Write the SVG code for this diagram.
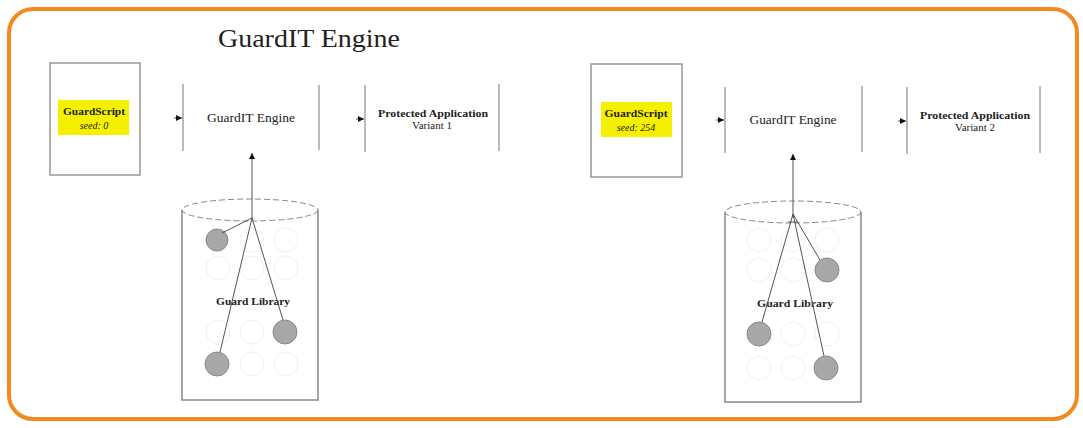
<svg xmlns="http://www.w3.org/2000/svg" width="1083" height="428" viewBox="0 0 1083 428">
<style>
.t{font-family:'Liberation Serif','DejaVu Serif',serif;fill:#222}
.box{fill:#fff;stroke:#999;stroke-width:1.5}
.vl{stroke:#777;stroke-width:1}
.hl{fill:#f5f000}
.cyl{fill:none;stroke:#888;stroke-width:1.5}
.ell{fill:none;stroke:#888;stroke-width:1;stroke-dasharray:6 3}
.full{fill:#a8a8a8;stroke:#8a8a8a;stroke-width:1}
.empty{fill:none;stroke:#f0f0f0;stroke-width:1}
.ln{stroke:#555;stroke-width:1;fill:none}
</style>
<defs>
<marker id="ah" viewBox="0 0 10 10" refX="10" refY="5" markerWidth="8" markerHeight="6" orient="auto" markerUnits="userSpaceOnUse">
<path d="M0,0 L10,5 L0,10 z" fill="#111"/>
</marker>
</defs>
<rect x="0" y="0" width="1083" height="428" fill="#fff"/>
<rect x="9" y="9" width="1068" height="410" rx="24" fill="none" stroke="#f28a22" stroke-width="4"/>
<g font-family="'Liberation Serif','DejaVu Serif',serif">
<text class="t" x="309" y="47" font-size="26" text-anchor="middle" textLength="182" lengthAdjust="spacingAndGlyphs">GuardIT Engine</text>

<g id="script1">
<rect class="box" x="50" y="63" width="90" height="112"/>
<rect class="hl" x="58" y="100" width="71" height="35"/>
<text class="t" x="94" y="115" font-size="11" font-weight="bold" text-anchor="middle" textLength="62" lengthAdjust="spacingAndGlyphs">GuardScript</text>
<text class="t" x="94" y="129" font-size="10" font-style="italic" text-anchor="middle">seed: 0</text>
</g>
<g id="engine1">
<line class="vl" x1="183" y1="84" x2="183" y2="151"/>
<line class="vl" x1="319" y1="85" x2="319" y2="150"/>
<text class="t" x="251" y="122" font-size="12" text-anchor="middle" textLength="88" lengthAdjust="spacingAndGlyphs">GuardIT Engine</text>
</g>
<g id="app1">
<line class="vl" x1="365" y1="85" x2="365" y2="152"/>
<line class="vl" x1="499" y1="84" x2="499" y2="151"/>
<text class="t" x="433" y="117" font-size="11" font-weight="bold" text-anchor="middle" textLength="110" lengthAdjust="spacingAndGlyphs">Protected Application</text>
<text class="t" x="432" y="129" font-size="10" text-anchor="middle" textLength="40" lengthAdjust="spacingAndGlyphs">Variant 1</text>
</g>
<g id="library1">
<path class="cyl" d="M182,210 V400 H318 V210"/>
<ellipse class="ell" cx="250" cy="210" rx="68" ry="11"/>
<circle class="empty" cx="252" cy="240" r="12"/><circle class="empty" cx="286" cy="240" r="12"/>
<circle class="empty" cx="218" cy="268" r="12"/><circle class="empty" cx="252" cy="268" r="12"/><circle class="empty" cx="286" cy="268" r="12"/>
<circle class="empty" cx="218" cy="332" r="12"/><circle class="empty" cx="252" cy="332" r="12"/>
<circle class="empty" cx="252" cy="364" r="12"/><circle class="empty" cx="286" cy="364" r="12"/>
<circle class="full" cx="217" cy="240" r="11"/>
<circle class="full" cx="285" cy="332" r="12"/>
<circle class="full" cx="217" cy="364" r="12"/>
<text class="t" x="253" y="305" font-size="11" font-weight="bold" text-anchor="middle" textLength="74" lengthAdjust="spacingAndGlyphs">Guard Library</text>
</g>

<g id="script2">
<rect class="box" x="591" y="64" width="91" height="113"/>
<rect class="hl" x="601" y="102" width="71" height="35"/>
<text class="t" x="636" y="117" font-size="11" font-weight="bold" text-anchor="middle" textLength="63" lengthAdjust="spacingAndGlyphs">GuardScript</text>
<text class="t" x="636" y="131" font-size="10" font-style="italic" text-anchor="middle">seed: 254</text>
</g>
<g id="engine2">
<line class="vl" x1="725" y1="87" x2="725" y2="153"/>
<line class="vl" x1="862" y1="86" x2="862" y2="152"/>
<text class="t" x="793" y="124" font-size="12" text-anchor="middle" textLength="87" lengthAdjust="spacingAndGlyphs">GuardIT Engine</text>
</g>
<g id="app2">
<line class="vl" x1="907" y1="87" x2="907" y2="154"/>
<line class="vl" x1="1040" y1="86" x2="1040" y2="153"/>
<text class="t" x="975" y="119" font-size="11" font-weight="bold" text-anchor="middle" textLength="110" lengthAdjust="spacingAndGlyphs">Protected Application</text>
<text class="t" x="975" y="131" font-size="10" text-anchor="middle" textLength="40" lengthAdjust="spacingAndGlyphs">Variant 2</text>
</g>
<g id="library2">
<path class="cyl" d="M725,212 V402 H861 V212"/>
<ellipse class="ell" cx="793" cy="212" rx="68" ry="11"/>
<circle class="empty" cx="759" cy="240" r="12"/><circle class="empty" cx="793" cy="240" r="12"/><circle class="empty" cx="827" cy="240" r="12"/>
<circle class="empty" cx="759" cy="270" r="12"/><circle class="empty" cx="793" cy="270" r="12"/>
<circle class="empty" cx="793" cy="334" r="12"/><circle class="empty" cx="827" cy="334" r="12"/>
<circle class="empty" cx="759" cy="368" r="12"/><circle class="empty" cx="793" cy="368" r="12"/>
<circle class="full" cx="827" cy="270" r="12"/>
<circle class="full" cx="759" cy="334" r="12"/>
<circle class="full" cx="826" cy="368" r="12"/>
<text class="t" x="795" y="307" font-size="11" font-weight="bold" text-anchor="middle" textLength="76" lengthAdjust="spacingAndGlyphs">Guard Library</text>
</g>
</g>

<g id="connectors">
<line class="ln" x1="174" y1="118" x2="182" y2="118" marker-end="url(#ah)"/>
<line class="ln" x1="356" y1="119" x2="364" y2="119" marker-end="url(#ah)"/>
<line class="ln" x1="252" y1="218" x2="252" y2="153" marker-end="url(#ah)"/>
<line class="ln" x1="252" y1="218" x2="222" y2="233"/>
<line class="ln" x1="252" y1="218" x2="283" y2="320"/>
<line class="ln" x1="252" y1="218" x2="220" y2="352"/>
<line class="ln" x1="716" y1="120" x2="724" y2="120" marker-end="url(#ah)"/>
<line class="ln" x1="898" y1="121" x2="906" y2="121" marker-end="url(#ah)"/>
<line class="ln" x1="793" y1="218" x2="793" y2="154" marker-end="url(#ah)"/>
<line class="ln" x1="793" y1="214" x2="820" y2="260"/>
<line class="ln" x1="793" y1="214" x2="762" y2="322"/>
<line class="ln" x1="793" y1="214" x2="824" y2="356"/>
<line class="ln" x1="788" y1="222" x2="798" y2="222"/>
</g>
</svg>
